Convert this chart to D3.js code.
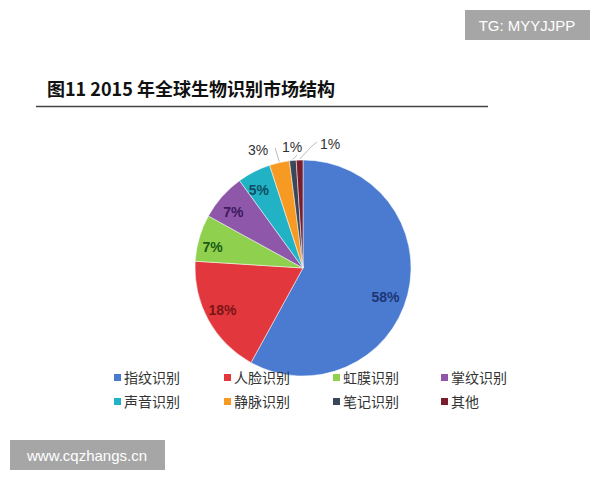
<!DOCTYPE html>
<meta charset="utf-8">
<style>
body { margin: 0; background: #fff; }
svg { font-family: "Noto Sans CJK SC", "Noto Sans", sans-serif; }
.lbl { font: bold 14px "Liberation Sans", Arial, sans-serif; text-anchor: middle; }
.leg text { font-size: 14px; fill: #333; }
</style>
<svg width="600" height="480"></svg>
<script src="https://d3js.org/d3.v7.min.js"></script>
<script>
// data
const categories = ["指纹识别", "人脸识别", "虹膜识别", "掌纹识别", "声音识别", "静脉识别", "笔记识别", "其他"];
const shares = [58, 18, 7, 7, 5, 3, 1, 1];
const colors = ["#4a7bd0", "#e2383d", "#8fd14f", "#8e57a9", "#21b2c6", "#f79a24", "#3b4658", "#7a1c2c"];
const labelColors = ["#1e3575", "#7a1515", "#1c5a12", "#3c1a5e", "#0d4e63", "#333", "#333", "#333"];

const svg = d3.select("svg");

// watermarks
svg.append("rect").attr("x", 465).attr("y", 10).attr("width", 125).attr("height", 30).attr("fill", "#a6a6a6");
svg.append("text").attr("x", 527).attr("y", 31).attr("text-anchor", "middle")
	.style("font", "15px 'Liberation Sans', Arial, sans-serif").attr("fill", "#fff").text("TG: MYYJJPP");
svg.append("rect").attr("x", 10).attr("y", 440).attr("width", 155).attr("height", 30).attr("fill", "#a6a6a6");
svg.append("text").attr("x", 87).attr("y", 461).attr("text-anchor", "middle")
	.style("font", "15px 'Liberation Sans', Arial, sans-serif").attr("fill", "#fff").text("www.cqzhangs.cn");

// title
svg.append("text").attr("x", 47).attr("y", 96)
	.style("font-weight", "bold").style("font-size", "18px").attr("fill", "#111")
	.text("图11 2015 年全球生物识别市场结构");
svg.append("line").attr("x1", 36).attr("x2", 488).attr("y1", 106.5).attr("y2", 106.5)
	.attr("stroke", "#444").attr("stroke-width", 1.5);

// pie
const cx = 303, cy = 268, radius = 108;
const g = svg.append("g").attr("transform", "translate(" + cx + "," + cy + ")");
const pie = d3.pie().sort(null).value(d => d);
const arcs = pie(shares);
const arc = d3.arc().innerRadius(0).outerRadius(radius);

g.selectAll("path").data(arcs).enter().append("path")
	.attr("d", arc)
	.attr("fill", (d, i) => colors[i])
	.attr("stroke", "#fff").attr("stroke-width", 0.5);

// inside labels
const inner = [0.81, 0.84, 0.86, 0.83, 0.83];
const nudge = [5, 1.5, -3, -2.5, -2.5]; // degrees
arcs.forEach((d, i) => {
	if (i > 4) return;
	const a = (d.startAngle + d.endAngle) / 2 + nudge[i] * Math.PI / 180;
	const r = radius * inner[i];
	g.append("text").attr("class", "lbl")
		.attr("x", r * Math.sin(a)).attr("y", -r * Math.cos(a) + 5)
		.attr("fill", labelColors[i]).text(shares[i] + "%");
});

// outside labels with leader lines
const outPos = [[-45, -118], [-11, -121], [27, -124]];
arcs.slice(5).forEach((d, k) => {
	const i = k + 5;
	const a = (d.startAngle + d.endAngle) / 2;
	const p0 = [(radius + 1) * Math.sin(a), -(radius + 1) * Math.cos(a)];
	const lp = outPos[k];
	let pts;
	if (k === 0) pts = [p0, [p0[0] - 3, p0[1] - 10], [lp[0] + 17, lp[1] - 2]];
	else if (k === 1) pts = [p0, [lp[0] + 5, lp[1] + 8]];
	else pts = [p0, [lp[0] - 18, lp[1] + 2], [lp[0] - 13, lp[1] - 2]];
	g.append("polyline")
		.attr("points", pts.map(p => p.join(",")).join(" "))
		.attr("fill", "none").attr("stroke", "#aaa").attr("stroke-width", 0.8);
	g.append("text").attr("class", "lbl").style("font-weight", "normal")
		.attr("x", lp[0]).attr("y", lp[1] + 5)
		.attr("fill", labelColors[i]).text(shares[i] + "%");
});

// legend
const colX = [114, 224, 333, 441];
const rowY = [378, 402];
const leg = svg.append("g").attr("class", "leg");
categories.forEach((c, i) => {
	const x = colX[i % 4], y = rowY[Math.floor(i / 4)];
	leg.append("rect").attr("x", x).attr("y", y - 4).attr("width", 7).attr("height", 7).attr("fill", colors[i]);
	leg.append("text").attr("x", x + 10).attr("y", y + 5).text(c);
});
</script>
